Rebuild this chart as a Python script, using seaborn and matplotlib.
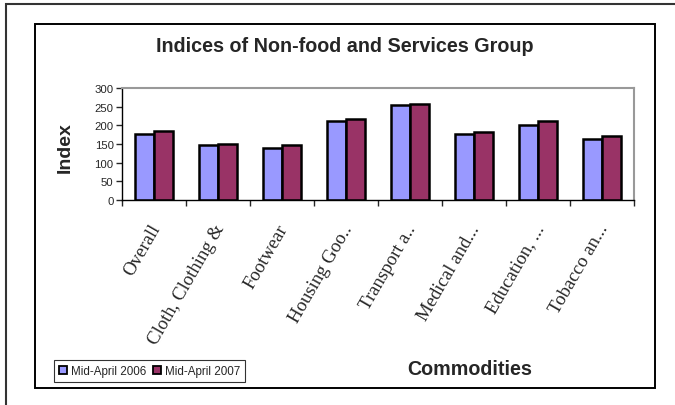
import matplotlib
matplotlib.use("Agg")
import matplotlib.pyplot as plt
import matplotlib.transforms as mtransforms
import seaborn as sns
import pandas as pd
from matplotlib.patches import Rectangle

categories = ["Overall", "Cloth, Clothing &", "Footwear", "Housing Goo..",
              "Transport a..", "Medical and...", "Education, ...", "Tobacco an..."]
series = ["Mid-April 2006", "Mid-April 2007"]
values_2006 = [177, 147, 138, 211, 255, 177, 201, 163]
values_2007 = [186, 149, 147, 216, 256, 182, 212, 172]
colors = ["#9999FF", "#993366"]

df = pd.DataFrame({
    "Commodity": categories * 2,
    "Period": [series[0]] * len(categories) + [series[1]] * len(categories),
    "Index": values_2006 + values_2007,
})

sns.set_style("white")
plt.rcParams["font.family"] = ["Liberation Sans", "DejaVu Sans"]

fig = plt.figure(figsize=(6.75, 4.06), dpi=100)
fig.patch.set_facecolor("white")

# frames
fig.add_artist(Rectangle((6 / 675, -0.1), 1.2, (406 - 5) / 406 + 0.1,
                         transform=fig.transFigure, fill=False,
                         edgecolor="#333333", linewidth=1.5))
fig.add_artist(Rectangle((35 / 675, (406 - 389) / 406), 620 / 675, 364 / 406,
                         transform=fig.transFigure, fill=False,
                         edgecolor="black", linewidth=1.4))

ax = fig.add_axes([122 / 675, (406 - 201) / 406, 512 / 675, 112 / 406])
sns.barplot(data=df, x="Commodity", y="Index", hue="Period", palette=colors,
            width=0.6, edgecolor="black", linewidth=1.8, saturation=1,
            ax=ax, legend=False)

ax.set_ylim(0, 300)
ax.set_yticks(range(0, 301, 50))
ax.set_xlim(-0.5, len(categories) - 0.5)
ax.tick_params(axis="y", labelsize=8.2, length=4, width=1, direction="out",
               left=True, pad=2)
ax.set_xticks(range(len(categories)))
ax.set_xticklabels(categories, rotation=60, ha="right", rotation_mode="anchor",
                   family=["Liberation Serif"], fontsize=13.5)
ax.tick_params(axis="x", length=0, pad=15)
shift = mtransforms.ScaledTranslation(-5 / 100, 0, fig.dpi_scale_trans)
for lbl in ax.get_xticklabels():
    lbl.set_transform(lbl.get_transform() + shift)
ax.set_xticks([i - 0.5 for i in range(len(categories) + 1)], minor=True)
ax.tick_params(axis="x", which="minor", length=4, width=1, direction="out",
               bottom=True)

for s in ["left", "bottom"]:
    ax.spines[s].set_color("black")
    ax.spines[s].set_linewidth(1)
for s in ["top", "right"]:
    ax.spines[s].set_color("#999999")
    ax.spines[s].set_linewidth(1.5)

ax.set_xlabel("")
ax.set_ylabel("")
fig.text(65 / 675, (406 - 148) / 406, "Index", rotation=90,
         ha="center", va="center", fontsize=14, fontweight="bold")

fig.text(0.5 * (35 + 655) / 675, (406 - 46) / 406,
         "Indices of Non-food and Services Group",
         ha="center", va="center", fontsize=14.2, fontweight="bold")
fig.text(470 / 675, (406 - 370) / 406, "Commodities",
         ha="center", va="center", fontsize=14.2, fontweight="bold")

handles = [Rectangle((0, 0), 1, 1, facecolor=c, edgecolor="black", linewidth=1.3)
           for c in colors]
leg = fig.legend(handles, series, loc="lower left",
                 bbox_to_anchor=(54 / 675, (406 - 383) / 406),
                 ncol=2, fontsize=8.4, frameon=True, fancybox=False,
                 handlelength=0.7, handleheight=0.7, handletextpad=0.3,
                 columnspacing=0.6, borderpad=0.45, borderaxespad=0)
leg.get_frame().set_edgecolor("black")
leg.get_frame().set_linewidth(0.8)

fig.savefig("out.png", dpi=100)
